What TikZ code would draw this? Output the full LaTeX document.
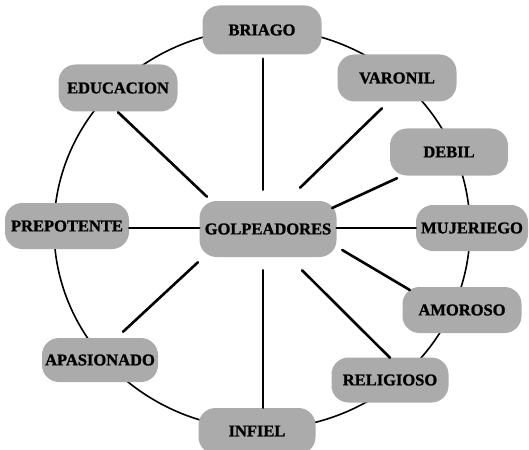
\documentclass[tikz,border=0pt]{standalone}
\usepackage{fontspec}
\setmainfont{Liberation Serif}
\newfontfamily\heavyfont[FakeBold=1.2]{Liberation Serif Bold}
\usetikzlibrary{calc}
\begin{document}
\begin{tikzpicture}[x=1pt,y=-1pt,
  pill/.style={draw=none, fill=black!33, rounded corners=17pt, inner sep=0pt,
    minimum width=119pt, minimum height=47pt,
    font=\heavyfont\fontsize{16.5}{16.5}\selectfont, text=black},
  spoke/.style={line width=2.6pt, line cap=round},
  ring/.style={line width=1.6pt}]
\useasboundingbox (0,0) rectangle (529,449);
\draw[ring] (262,229) ellipse [x radius=208pt, y radius=200pt];
\node[pill, minimum width=137pt, minimum height=56pt] (golp) at (268,229) {GOLPEADORES};
\node[pill, minimum height=49pt] (briago) at (262,30) {BRIAGO};
\node[pill] (varonil) at (397,78) {VARONIL};
\node[pill] (educ) at (118,88) {EDUCACION};
\node[pill, minimum width=118pt] (debil) at (449,152) {DEBIL};
\node[pill, minimum width=124pt, minimum height=46pt] (prep) at (67,226) {PREPOTENTE};
\node[pill, minimum width=112pt, minimum height=46pt] (mujer) at (472,228) {MUJERIEGO};
\node[pill, minimum height=46pt] (amor) at (462,310) {AMOROSO};
\node[pill, minimum width=116pt, minimum height=44pt] (apas) at (100,360) {APASIONADO};
\node[pill, minimum width=117pt, minimum height=45pt] (relig) at (390,380) {RELIGIOSO};
\node[pill, minimum width=117pt, minimum height=46pt] (infiel) at (257,431) {INFIEL};
% spokes
\draw[spoke] ($(golp.north)+(-5,-11)$) -- ($(briago.south)+(1,4)$);
\draw[spoke] ($(golp.north)+(32,-13)$) -- ($(varonil.south)+(-15,6.5)$);
\draw[spoke] ($(golp.east)+(-4.5,-21)$) -- ($(debil.south)+(-52,2.5)$);
\draw[spoke] ($(golp.east)+(0,-1)$) -- ($(mujer.west)+(0,0)$);
\draw[spoke] ($(golp.east)+(5.5,21)$) -- ($(amor.west)+(7.5,-20)$);
\draw[spoke] ($(golp.south)+(34,13)$) -- ($(relig.north)+(0,0.5)$);
\draw[spoke] ($(golp.south)+(-5,13)$) -- ($(infiel.north)+(6,0)$);
\draw[spoke] ($(golp.south)+(-70,5)$) -- ($(apas.north)+(23,-6)$);
\draw[spoke] ($(golp.west)+(0,-1)$) -- ($(prep.east)+(0,2)$);
\draw[spoke] ($(golp.north)+(-61,-4)$) -- ($(educ.south)+(0,0.5)$);
\end{tikzpicture}
\end{document}
